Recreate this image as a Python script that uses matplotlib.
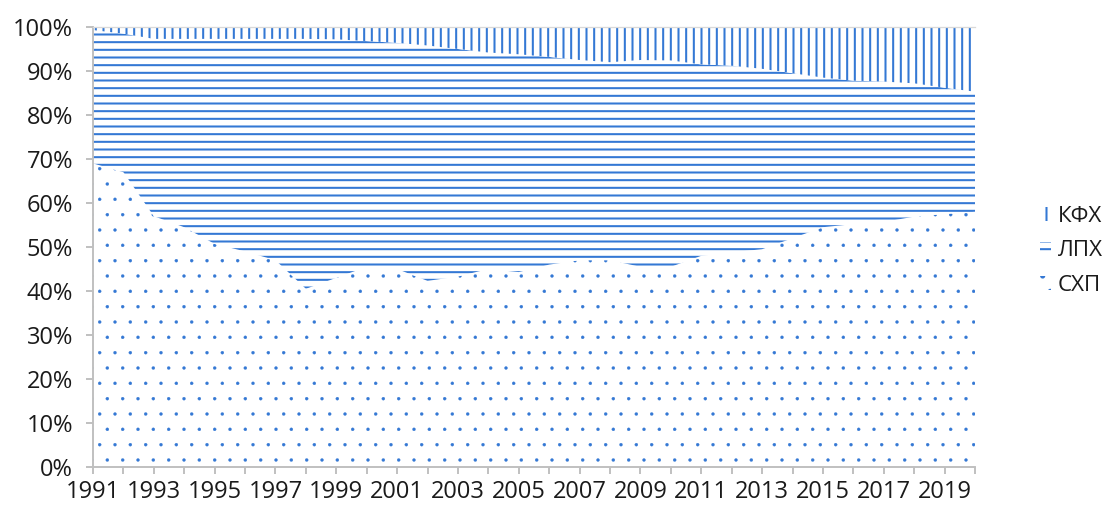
import matplotlib
matplotlib.use('Agg')
import matplotlib.pyplot as plt
from matplotlib.patches import Patch

# shares of agricultural output by type of producer, %
years = list(range(1991, 2021))
labels = ['СХП', 'ЛПХ', 'КФХ']
shp = [69, 67, 57, 54.5, 50.7, 49, 47, 40.5, 43, 45.5,
       45, 42.3, 43.3, 45, 44.3, 46, 47, 47, 45.5, 45.5,
       48, 48.8, 49.5, 52, 54.5, 55.2, 55.7, 56.9, 57.5, 58]
lph = [30.3, 31.5, 40.3, 42.8, 46.6, 48.3, 50.3, 56.8, 54.2, 51.3,
       51.4, 53.5, 51.7, 49.2, 49.5, 47.2, 45.5, 45.0, 47.0, 46.9,
       43.5, 42.4, 41.0, 37.5, 34.0, 32.6, 31.9, 30.3, 28.7, 27.3]
kfh = [0.7, 1.5, 2.7, 2.7, 2.7, 2.7, 2.7, 2.7, 2.8, 3.2,
       3.6, 4.2, 5.0, 5.8, 6.2, 6.8, 7.5, 8.0, 7.5, 7.6,
       8.5, 8.8, 9.5, 10.5, 11.5, 12.2, 12.4, 12.8, 13.8, 14.7]
yticks = list(range(0, 101, 10))

BLUE = '#3478d4'
GREY = '#bfbfbf'
hatches = ['.', '--', '||']
hatch_lw = [0.2, 1.6, 1.6]

plt.rcParams['font.family'] = ['Open Sans', 'DejaVu Sans']
plt.rcParams['hatch.linewidth'] = 1.6

DPI = 92
fig = plt.figure(figsize=(1112 / DPI, 510 / DPI), dpi=DPI)
ax = fig.add_axes([93 / 1112, 43 / 510, 882 / 1112, 440 / 510])

polys = ax.stackplot(years, shp, lph, kfh, colors=['white'] * 3,
                     labels=labels, linewidth=0)
for p, h, lw in zip(polys, hatches, hatch_lw):
    p.set_hatch(h)
    p.set_edgecolor(BLUE)
    p.set_linewidth(0)
    if hasattr(p, 'set_hatch_linewidth'):
        p.set_hatch_linewidth(lw)

ax.set_xlim(years[0], years[-1])
ax.set_ylim(0, 100)
ax.set_xticks(years)
ax.set_xticklabels([str(y) if (y - years[0]) % 2 == 0 else '' for y in years])
ax.set_yticks(yticks)
ax.set_yticklabels([f'{v}%' for v in yticks])

for s in ['left', 'bottom']:
    ax.spines[s].set_color(GREY)
    ax.spines[s].set_linewidth(1.5)
ax.spines['right'].set_visible(False)
ax.spines['top'].set_color('#d9d9d9')
ax.spines['top'].set_linewidth(1)
ax.tick_params(axis='both', colors=GREY, width=1.5, length=5.5,
               labelcolor='#1a1a1a', labelsize=18.5)
ax.tick_params(axis='x', pad=5)
ax.tick_params(axis='y', pad=10)

handles = []
for h, lw in zip(hatches, hatch_lw):
    hp = Patch(facecolor='white', edgecolor=BLUE, linewidth=0, hatch=h)
    if hasattr(hp, 'set_hatch_linewidth'):
        hp.set_hatch_linewidth(lw)
    handles.append(hp)
fig.legend(handles[::-1], labels[::-1], loc='center left',
           bbox_to_anchor=(1020 / 1112, 1 - 251 / 510), frameon=False,
           handlelength=0.5, handleheight=0.55, handletextpad=0.3,
           labelspacing=0.6, fontsize=17.5, labelcolor='#1a1a1a')

fig.savefig('out.png', dpi=DPI)
